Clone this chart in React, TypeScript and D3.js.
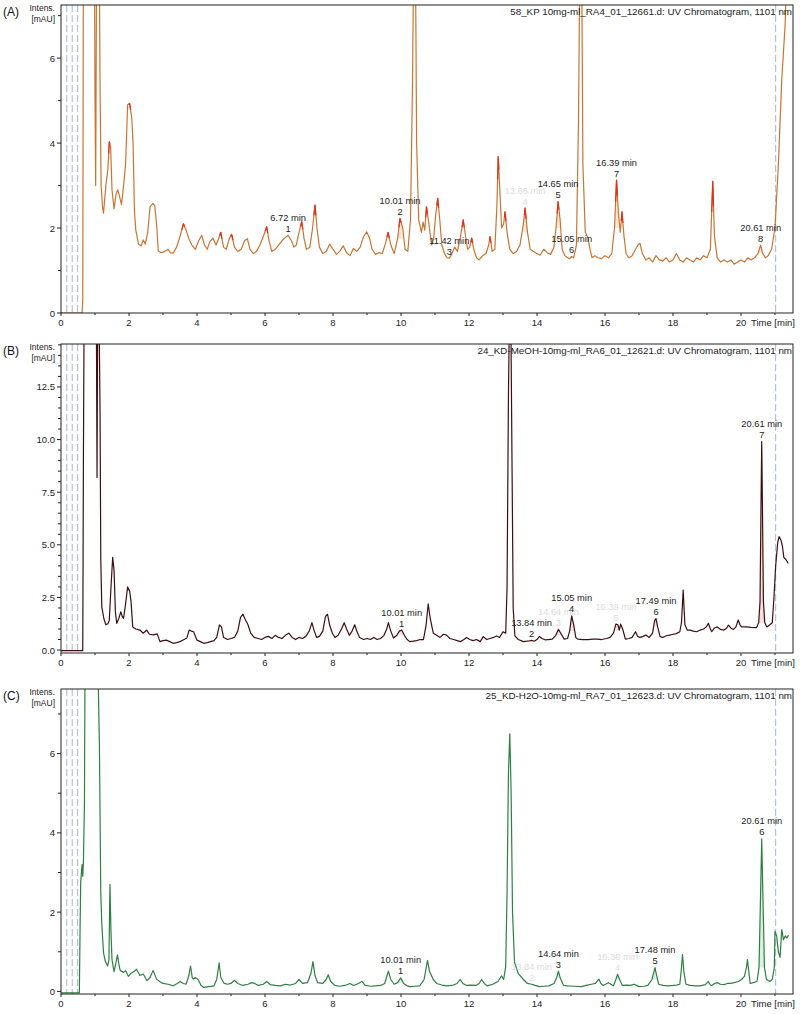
import React from 'react';
import * as d3 from 'd3';

type Pt = [number, number];

// retention time (min) / intensity (mAU)
const traceA: Pt[] = [
  [0, 0], [0.62, 0], [0.64, 0.3], [0.66, 9], [0.98, 9], [1.0, 5.1], [1.02, 3.0], [1.05, 9], [1.12, 9],
  [1.15, 5.2], [1.18, 3.0], [1.22, 2.5], [1.25, 2.35], [1.32, 3.0], [1.38, 3.4], [1.42, 4.03], [1.46, 3.9],
  [1.5, 2.9], [1.56, 2.45], [1.62, 2.8], [1.67, 2.9], [1.72, 2.75], [1.78, 2.55], [1.84, 3.0], [1.9, 3.5],
  [1.96, 4.9], [2.02, 4.93], [2.08, 4.6], [2.12, 4.0], [2.16, 2.4], [2.2, 1.95], [2.28, 1.62], [2.36, 1.58],
  [2.42, 1.72], [2.48, 1.62], [2.55, 1.9], [2.62, 2.5], [2.7, 2.58], [2.76, 2.52], [2.82, 2.0], [2.86, 1.46],
  [2.95, 1.42], [3.05, 1.45], [3.15, 1.5], [3.22, 1.42], [3.3, 1.41], [3.4, 1.55], [3.5, 1.8], [3.6, 2.1],
  [3.68, 1.95], [3.76, 1.75], [3.85, 1.6], [3.95, 1.5], [4.05, 1.7], [4.14, 1.83], [4.22, 1.6], [4.3, 1.5],
  [4.38, 1.68], [4.47, 1.76], [4.56, 1.6], [4.62, 1.72], [4.7, 1.9], [4.78, 1.55], [4.86, 1.5], [4.95, 1.75],
  [5.02, 1.85], [5.1, 1.55], [5.2, 1.45], [5.3, 1.5], [5.4, 1.7], [5.48, 1.75], [5.56, 1.5], [5.65, 1.4],
  [5.75, 1.45], [5.85, 1.6], [5.95, 1.8], [6.05, 2.03], [6.12, 1.7], [6.2, 1.45], [6.3, 1.5], [6.4, 1.6],
  [6.5, 1.7], [6.6, 1.78], [6.68, 1.83], [6.78, 1.7], [6.85, 1.55], [6.92, 1.6], [7.0, 1.9], [7.08, 2.15],
  [7.15, 1.75], [7.22, 1.5], [7.32, 1.55], [7.4, 2.0], [7.47, 2.54], [7.53, 2.0], [7.6, 1.55], [7.7, 1.4],
  [7.8, 1.45], [7.9, 1.62], [8.0, 1.5], [8.1, 1.38], [8.2, 1.45], [8.3, 1.58], [8.4, 1.42], [8.5, 1.35],
  [8.6, 1.52], [8.7, 1.45], [8.8, 1.55], [8.9, 1.8], [8.99, 1.91], [9.08, 1.75], [9.15, 1.5], [9.25, 1.38],
  [9.35, 1.42], [9.45, 1.4], [9.55, 1.65], [9.62, 1.9], [9.7, 1.6], [9.8, 1.4], [9.9, 1.75], [9.97, 2.23],
  [10.05, 2.0], [10.12, 1.5], [10.2, 1.45], [10.28, 2.2], [10.34, 5.5], [10.38, 9], [10.42, 9], [10.46, 4.0],
  [10.52, 2.2], [10.6, 1.9], [10.65, 2.14], [10.7, 1.95], [10.75, 2.5], [10.82, 2.1], [10.9, 1.6], [10.96, 1.75],
  [11.02, 2.3], [11.08, 2.7], [11.14, 2.2], [11.2, 1.6], [11.28, 1.4], [11.35, 1.3], [11.42, 1.29], [11.5, 1.4],
  [11.58, 1.55], [11.66, 1.45], [11.75, 1.8], [11.83, 2.19], [11.9, 1.8], [11.96, 1.5], [12.02, 1.55],
  [12.08, 1.76], [12.14, 1.5], [12.22, 1.3], [12.3, 1.25], [12.4, 1.35], [12.5, 1.4], [12.58, 1.6], [12.62, 1.8],
  [12.68, 1.45], [12.76, 1.5], [12.82, 2.5], [12.86, 3.68], [12.9, 3.0], [12.96, 2.0], [13.02, 2.1],
  [13.06, 2.38], [13.12, 1.9], [13.2, 1.5], [13.3, 1.4], [13.4, 1.45], [13.5, 1.6], [13.6, 2.1], [13.65, 2.47],
  [13.72, 1.9], [13.8, 1.5], [13.9, 1.45], [14.0, 1.4], [14.09, 1.36], [14.2, 1.5], [14.3, 1.42], [14.4, 1.38],
  [14.5, 1.55], [14.56, 2.0], [14.62, 2.62], [14.68, 2.2], [14.74, 1.5], [14.82, 1.35], [14.9, 1.3],
  [14.96, 1.28], [15.02, 1.33], [15.08, 1.3], [15.16, 1.6], [15.22, 4.5], [15.27, 9], [15.31, 9], [15.35, 3.5],
  [15.42, 1.9], [15.5, 1.76], [15.56, 1.5], [15.62, 1.3], [15.7, 1.35], [15.8, 1.3], [15.9, 1.28], [16.0, 1.35],
  [16.1, 1.3], [16.2, 1.4], [16.28, 2.0], [16.34, 3.13], [16.4, 2.3], [16.45, 1.9], [16.5, 2.38], [16.56, 1.8],
  [16.62, 1.4], [16.7, 1.3], [16.8, 1.35], [16.9, 1.5], [16.97, 1.6], [17.03, 1.64], [17.1, 1.4], [17.2, 1.25],
  [17.3, 1.3], [17.4, 1.2], [17.5, 1.35], [17.6, 1.25], [17.7, 1.22], [17.8, 1.3], [17.9, 1.2], [18.0, 1.25],
  [18.1, 1.4], [18.2, 1.25], [18.3, 1.2], [18.4, 1.3], [18.5, 1.25], [18.6, 1.2], [18.7, 1.3], [18.8, 1.25],
  [18.9, 1.35], [19.0, 1.3], [19.1, 1.5], [19.17, 3.1], [19.22, 1.8], [19.3, 1.3], [19.4, 1.2], [19.5, 1.25],
  [19.6, 1.2], [19.7, 1.25], [19.8, 1.15], [19.9, 1.2], [20.0, 1.25], [20.1, 1.2], [20.2, 1.3], [20.3, 1.25],
  [20.4, 1.3], [20.5, 1.4], [20.58, 1.6], [20.64, 1.4], [20.72, 1.3], [20.8, 1.35], [20.9, 1.5], [21.0, 2.0],
  [21.1, 3.5], [21.2, 5.5], [21.3, 6.8], [21.38, 9],
];

const traceB: Pt[] = [
  [0, -0.03], [0.64, -0.03], [0.66, 9.4], [0.68, 16], [1.04, 16], [1.06, 8.2], [1.08, 16], [1.12, 16],
  [1.15, 11.0], [1.17, 4.3], [1.2, 2.05], [1.26, 1.5], [1.32, 1.2], [1.38, 1.25], [1.42, 1.4], [1.47, 3.0],
  [1.52, 4.4], [1.56, 3.8], [1.6, 1.8], [1.64, 1.27], [1.7, 1.5], [1.76, 1.82], [1.8, 1.6], [1.84, 1.5],
  [1.9, 2.2], [1.96, 3.0], [2.02, 2.8], [2.06, 2.3], [2.11, 1.1], [2.2, 1.0], [2.32, 0.95], [2.42, 0.8],
  [2.52, 0.95], [2.6, 0.75], [2.72, 0.72], [2.83, 0.77], [2.91, 0.4], [3.0, 0.45], [3.1, 0.47], [3.2, 0.4],
  [3.3, 0.32], [3.4, 0.35], [3.5, 0.4], [3.62, 0.5], [3.7, 0.57], [3.77, 0.95], [3.84, 0.9], [3.9, 0.87],
  [4.0, 0.47], [4.1, 0.4], [4.2, 0.32], [4.3, 0.35], [4.4, 0.4], [4.5, 0.45], [4.58, 0.6], [4.66, 1.2],
  [4.72, 1.1], [4.78, 0.6], [4.9, 0.5], [5.0, 0.55], [5.1, 0.6], [5.2, 0.9], [5.28, 1.55], [5.35, 1.7],
  [5.42, 1.45], [5.5, 1.2], [5.58, 0.8], [5.68, 0.6], [5.8, 0.55], [5.9, 0.5], [6.0, 0.6], [6.1, 0.65],
  [6.2, 0.55], [6.3, 0.7], [6.4, 0.6], [6.5, 0.55], [6.6, 0.7], [6.7, 0.8], [6.8, 0.6], [6.9, 0.5], [7.0, 0.6],
  [7.1, 0.55], [7.2, 0.65], [7.3, 0.9], [7.38, 1.3], [7.45, 0.9], [7.52, 0.6], [7.6, 0.65], [7.7, 0.9],
  [7.78, 1.6], [7.84, 1.7], [7.9, 1.2], [7.98, 0.8], [8.06, 0.6], [8.15, 0.7], [8.25, 1.0], [8.33, 1.3],
  [8.4, 1.0], [8.48, 0.7], [8.56, 0.9], [8.64, 1.2], [8.7, 0.9], [8.78, 0.6], [8.9, 0.5], [9.0, 0.55],
  [9.1, 0.5], [9.2, 0.6], [9.3, 0.5], [9.4, 0.55], [9.5, 0.7], [9.58, 1.0], [9.63, 1.3], [9.7, 0.9],
  [9.78, 0.57], [9.88, 0.7], [9.95, 0.9], [10.02, 0.95], [10.1, 0.7], [10.18, 0.5], [10.26, 0.4],
  [10.36, 0.42], [10.46, 0.45], [10.56, 0.5], [10.66, 0.5], [10.74, 1.2], [10.8, 2.19], [10.86, 1.5],
  [10.95, 0.8], [11.05, 0.7], [11.15, 0.6], [11.25, 0.75], [11.34, 0.71], [11.44, 0.55], [11.55, 0.5],
  [11.65, 0.45], [11.75, 0.4], [11.85, 0.5], [11.93, 0.6], [12.02, 0.5], [12.12, 0.45], [12.22, 0.5],
  [12.33, 0.4], [12.42, 0.64], [12.52, 0.5], [12.62, 0.55], [12.72, 0.6], [12.81, 0.67], [12.9, 0.6],
  [13.0, 0.87], [13.08, 0.8], [13.12, 3.0], [13.16, 12], [13.19, 16], [13.23, 16], [13.27, 8], [13.3, 2.0],
  [13.35, 0.67], [13.45, 0.5], [13.6, 0.4], [13.7, 0.42], [13.78, 0.44], [13.84, 0.46], [13.92, 0.42],
  [14.0, 0.5], [14.07, 0.64], [14.15, 0.55], [14.25, 0.48], [14.33, 0.5], [14.45, 0.52], [14.55, 0.7],
  [14.63, 0.98], [14.7, 0.8], [14.8, 0.52], [14.9, 0.55], [14.96, 0.9], [15.02, 1.62], [15.08, 1.2],
  [15.14, 0.6], [15.2, 0.52], [15.35, 0.5], [15.5, 0.5], [15.65, 0.52], [15.78, 0.52], [15.9, 0.5],
  [16.05, 0.55], [16.15, 0.6], [16.25, 0.8], [16.32, 1.23], [16.38, 1.2], [16.42, 0.95], [16.46, 1.23],
  [16.52, 1.0], [16.6, 0.52], [16.7, 0.55], [16.8, 0.6], [16.9, 0.87], [16.96, 0.65], [17.03, 0.6],
  [17.12, 0.65], [17.2, 0.71], [17.3, 0.6], [17.4, 0.8], [17.46, 1.4], [17.5, 1.5], [17.55, 1.1],
  [17.62, 0.64], [17.7, 0.6], [17.8, 0.68], [17.9, 0.71], [18.0, 0.75], [18.1, 0.78], [18.2, 0.87],
  [18.25, 1.3], [18.3, 2.85], [18.35, 1.2], [18.42, 0.95], [18.5, 0.95], [18.6, 0.9], [18.7, 0.87],
  [18.8, 0.95], [18.9, 1.0], [18.98, 1.1], [19.04, 1.27], [19.1, 1.0], [19.14, 0.87], [19.22, 1.05],
  [19.3, 1.1], [19.4, 0.98], [19.5, 0.95], [19.58, 1.05], [19.63, 1.19], [19.7, 1.05], [19.78, 0.98],
  [19.85, 1.1], [19.92, 1.43], [19.97, 1.2], [20.02, 1.1], [20.15, 1.1], [20.3, 1.08], [20.46, 1.07],
  [20.52, 1.3], [20.56, 2.3], [20.59, 7.0], [20.61, 9.9], [20.63, 7.0], [20.66, 2.3], [20.7, 1.3],
  [20.76, 1.1], [20.85, 1.2], [20.92, 1.3], [20.97, 2.5], [21.02, 4.0], [21.08, 5.1], [21.12, 5.39],
  [21.18, 5.2], [21.22, 4.92], [21.26, 4.4], [21.32, 4.3], [21.39, 4.12],
];

const traceC: Pt[] = [
  [0, -0.04], [0.54, -0.04], [0.56, 1.5], [0.58, 2.78], [0.62, 3.2], [0.64, 2.9], [0.66, 3.3], [0.69, 4.76],
  [0.71, 9], [1.07, 9], [1.13, 6.19], [1.17, 2.49], [1.2, 1.7], [1.25, 0.98], [1.3, 0.77], [1.37, 0.64],
  [1.41, 0.8], [1.44, 2.7], [1.47, 1.5], [1.5, 0.8], [1.56, 0.5], [1.61, 0.7], [1.66, 0.92], [1.7, 0.7],
  [1.74, 0.53], [1.84, 0.48], [1.9, 0.52], [1.98, 0.38], [2.05, 0.45], [2.15, 0.5], [2.22, 0.56], [2.32, 0.4],
  [2.42, 0.44], [2.53, 0.27], [2.62, 0.35], [2.71, 0.53], [2.81, 0.31], [2.9, 0.25], [3.0, 0.2], [3.15, 0.18],
  [3.3, 0.14], [3.42, 0.2], [3.5, 0.25], [3.6, 0.2], [3.68, 0.18], [3.76, 0.4], [3.81, 0.64], [3.86, 0.35],
  [3.89, 0.31], [3.95, 0.35], [4.04, 0.29], [4.12, 0.15], [4.2, 0.1], [4.35, 0.12], [4.5, 0.14], [4.58, 0.3],
  [4.65, 0.72], [4.7, 0.35], [4.8, 0.2], [4.9, 0.18], [5.0, 0.2], [5.1, 0.28], [5.2, 0.2], [5.35, 0.15],
  [5.5, 0.18], [5.6, 0.22], [5.7, 0.2], [5.8, 0.15], [5.95, 0.18], [6.05, 0.25], [6.15, 0.17], [6.3, 0.15],
  [6.45, 0.14], [6.6, 0.18], [6.75, 0.16], [6.9, 0.2], [7.0, 0.3], [7.1, 0.2], [7.25, 0.22], [7.35, 0.45],
  [7.41, 0.75], [7.47, 0.4], [7.55, 0.22], [7.7, 0.2], [7.8, 0.3], [7.86, 0.42], [7.93, 0.25], [8.05, 0.15],
  [8.2, 0.13], [8.35, 0.15], [8.5, 0.2], [8.6, 0.15], [8.75, 0.2], [8.85, 0.25], [8.95, 0.15], [9.1, 0.13],
  [9.25, 0.14], [9.4, 0.15], [9.52, 0.2], [9.63, 0.51], [9.7, 0.3], [9.8, 0.18], [9.9, 0.22], [9.99, 0.34],
  [10.08, 0.2], [10.18, 0.14], [10.26, 0.12], [10.4, 0.13], [10.55, 0.14], [10.68, 0.3], [10.78, 0.78],
  [10.84, 0.5], [10.95, 0.3], [11.05, 0.2], [11.2, 0.16], [11.34, 0.14], [11.5, 0.15], [11.65, 0.2],
  [11.74, 0.3], [11.82, 0.2], [11.93, 0.15], [12.05, 0.16], [12.2, 0.15], [12.3, 0.2], [12.37, 0.3],
  [12.45, 0.2], [12.53, 0.14], [12.7, 0.18], [12.85, 0.25], [12.96, 0.39], [13.02, 0.3], [13.08, 0.63],
  [13.12, 2.5], [13.16, 5.5], [13.2, 6.5], [13.24, 5.0], [13.28, 2.0], [13.34, 0.73], [13.45, 0.45],
  [13.6, 0.3], [13.72, 0.2], [13.84, 0.18], [13.95, 0.15], [14.07, 0.12], [14.2, 0.13], [14.35, 0.14],
  [14.5, 0.2], [14.58, 0.35], [14.63, 0.51], [14.68, 0.35], [14.78, 0.15], [14.9, 0.14], [15.1, 0.13],
  [15.3, 0.12], [15.45, 0.15], [15.6, 0.18], [15.72, 0.2], [15.82, 0.31], [15.88, 0.2], [15.95, 0.15],
  [16.1, 0.22], [16.25, 0.14], [16.32, 0.3], [16.37, 0.43], [16.43, 0.3], [16.51, 0.15], [16.65, 0.16],
  [16.75, 0.15], [16.86, 0.18], [17.0, 0.12], [17.15, 0.13], [17.26, 0.15], [17.38, 0.3], [17.47, 0.6],
  [17.52, 0.4], [17.58, 0.18], [17.7, 0.15], [17.85, 0.14], [18.0, 0.15], [18.1, 0.16], [18.2, 0.18],
  [18.24, 0.5], [18.28, 0.93], [18.32, 0.5], [18.38, 0.18], [18.5, 0.15], [18.65, 0.14], [18.8, 0.14],
  [18.95, 0.17], [19.04, 0.25], [19.1, 0.16], [19.14, 0.15], [19.22, 0.2], [19.3, 0.22], [19.4, 0.18],
  [19.5, 0.17], [19.6, 0.2], [19.7, 0.2], [19.8, 0.22], [19.92, 0.25], [20.02, 0.3], [20.1, 0.38],
  [20.16, 0.6], [20.19, 0.8], [20.23, 0.5], [20.27, 0.2], [20.36, 0.22], [20.47, 0.25], [20.53, 0.6],
  [20.57, 2.2], [20.61, 3.85], [20.65, 2.2], [20.69, 0.6], [20.75, 0.3], [20.85, 0.25], [20.92, 0.3],
  [20.98, 0.6], [21.0, 1.52], [21.05, 1.4], [21.1, 1.0], [21.15, 0.86], [21.2, 1.56], [21.25, 1.3],
  [21.3, 1.4], [21.35, 1.35], [21.4, 1.42],
];

// annotated peaks: [time, label, number, faint]
const peaksA: [number, string, string, boolean][] = [
  [6.68, '6.72 min', '1', false], [9.97, '10.01 min', '2', false], [11.42, '11.42 min', '3', false],
  [13.65, '13.66 min', '4', true], [14.62, '14.65 min', '5', false], [15.02, '15.05 min', '6', false],
  [16.34, '16.39 min', '7', false], [20.58, '20.61 min', '8', false],
];
const peaksB: [number, string, string, boolean][] = [
  [10.02, '10.01 min', '1', false], [13.84, '13.84 min', '2', false], [14.63, '14.64 min', '3', true],
  [15.02, '15.05 min', '4', false], [16.38, '16.39 min', '5', true], [17.5, '17.49 min', '6', false],
  [20.61, '20.61 min', '7', false],
];
const peaksC: [number, string, string, boolean][] = [
  [9.99, '10.01 min', '1', false], [13.84, '13.84 min', '2', true], [14.63, '14.64 min', '3', false],
  [16.37, '16.38 min', '4', true], [17.47, '17.48 min', '5', false], [20.61, '20.61 min', '6', false],
];

const headerA = '58_KP 10mg-ml_RA4_01_12661.d: UV Chromatogram, 1101 nm';
const headerB = '24_KD-MeOH-10mg-ml_RA6_01_12621.d: UV Chromatogram, 1101 nm';
const headerC = '25_KD-H2O-10mg-ml_RA7_01_12623.d: UV Chromatogram, 1101 nm';

const timeMajor = [0, 2, 4, 6, 8, 10, 12, 14, 16, 18, 20];
const timeMinor = [1, 3, 5, 7, 9, 11, 13, 15, 17, 19, 21];
const dashTimes = [0.17, 0.33, 0.49, 21.02];

const ticksA = [0, 2, 4, 6];
const ticksB = [0, 2.5, 5, 7.5, 10, 12.5];
const ticksC = [0, 2, 4, 6];

const FONT = '"Liberation Sans", Arial, sans-serif';
const X0 = 61;
const X1 = 793;
const T_MAX = 21.53;

type PanelProps = {
  tag: string;
  header: string;
  trace: Pt[];
  peaks: [number, string, string, boolean][];
  top: number;
  bottom: number;
  yLo: number;
  yHi: number;
  ticks: number[];
  minorStep: number;
  fmt: (v: number) => string;
  color: string;
  tip: string | null;
  fill: string;
  id: string;
};

function Panel(p: PanelProps) {
  const x = d3.scaleLinear().domain([0, T_MAX]).range([X0, X1]);
  const y = d3.scaleLinear().domain([p.yLo, p.yHi]).range([p.bottom, p.top]);
  const line = d3.line<Pt>().x(d => x(d[0])).y(d => y(d[1]));

  const minor = d3.range(0, p.yHi, p.minorStep).filter(v => !p.ticks.some(t => Math.abs(t - v) < 1e-6));

  const apexOf = (t: number) => {
    const near = p.trace.filter(d => Math.abs(d[0] - t) <= 0.07);
    return near.reduce((m, d) => (d[1] > m[1] ? d : m), near[0]);
  };

  // local maxima get a short red cap, like the instrument's peak marking
  const tips: Pt[][] = [];
  if (p.tip) {
    for (let i = 1; i < p.trace.length - 1; i++) {
      const [a, b, c] = [p.trace[i - 1], p.trace[i], p.trace[i + 1]];
      if (b[1] > a[1] && b[1] > c[1] && b[1] - Math.min(a[1], c[1]) > 0.25) {
        const k = 0.45;
        tips.push([
          [b[0] + (a[0] - b[0]) * k, b[1] + (a[1] - b[1]) * k],
          b,
          [b[0] + (c[0] - b[0]) * k, b[1] + (c[1] - b[1]) * k],
        ]);
      }
    }
  }

  return (
    <g>
      <defs>
        <clipPath id={p.id}>
          <rect x={X0} y={p.top} width={X1 - X0} height={p.bottom - p.top} />
        </clipPath>
      </defs>
      <text x={3} y={p.top + 11} fontSize={12} fontFamily={FONT} fill="#111">{p.tag}</text>
      <text x={55} y={p.top + 6} fontSize={8.5} fontFamily={FONT} textAnchor="end" fill="#222">Intens.</text>
      <text x={55} y={p.top + 17} fontSize={8.5} fontFamily={FONT} textAnchor="end" fill="#222">[mAU]</text>

      {dashTimes.map(t => (
        <line key={t} x1={x(t)} x2={x(t)} y1={p.top} y2={p.bottom} stroke="#a8b8c8" strokeWidth={1} strokeDasharray="7,3" />
      ))}

      <g clipPath={`url(#${p.id})`}>
        {p.peaks.map(([t], i) => {
          const win = p.trace.filter(d => Math.abs(d[0] - t) <= 0.1);
          const base = d3.min(win, d => d[1]) ?? 0;
          const area = d3.area<Pt>().x(d => x(d[0])).y0(y(base)).y1(d => y(d[1]));
          return <path key={i} d={area(win) ?? ''} fill={p.fill} opacity={0.35} />;
        })}
        <path d={line(p.trace) ?? ''} fill="none" stroke={p.color} strokeWidth={1.2} strokeLinejoin="round" />
        {tips.map((s, i) => (
          <path key={i} d={line(s) ?? ''} fill="none" stroke={p.tip ?? ''} strokeWidth={1.2} strokeLinejoin="round" />
        ))}
      </g>

      {p.peaks.map(([t, label, n, faint], i) => {
        const a = apexOf(t);
        const py = Math.max(y(a[1]), p.top + 30);
        const c = faint ? '#dcdcdc' : '#222';
        return (
          <g key={i} fontFamily={FONT} textAnchor="middle" fill={c}>
            <text x={x(a[0])} y={py - 14.5} fontSize={9.3}>{label}</text>
            <text x={x(a[0])} y={py - 3.5} fontSize={9.3}>{n}</text>
          </g>
        );
      })}

      <rect x={X0} y={p.top} width={X1 - X0} height={p.bottom - p.top} fill="none" stroke="#222" strokeWidth={1} />

      {p.ticks.map(v => (
        <g key={v}>
          <line x1={X0 - 4} x2={X0} y1={y(v)} y2={y(v)} stroke="#222" />
          <text x={X0 - 6} y={y(v) + 3.5} fontSize={9.5} fontFamily={FONT} textAnchor="end" fill="#222">{p.fmt(v)}</text>
        </g>
      ))}
      {minor.map(v => (
        <line key={v} x1={X0 - 3} x2={X0} y1={y(v)} y2={y(v)} stroke="#222" />
      ))}

      {timeMajor.map(t => (
        <g key={t}>
          <line x1={x(t)} x2={x(t)} y1={p.bottom} y2={p.bottom + 3} stroke="#222" />
          <text x={x(t)} y={p.bottom + 13} fontSize={9.5} fontFamily={FONT} textAnchor="middle" fill="#222">{t}</text>
        </g>
      ))}
      {timeMinor.filter(t => t < T_MAX).map(t => (
        <line key={t} x1={x(t)} x2={x(t)} y1={p.bottom} y2={p.bottom + 2} stroke="#222" />
      ))}
      <text x={x(20) + 10} y={p.bottom + 13} fontSize={9.5} fontFamily={FONT} fill="#222">Time [min]</text>

      <text x={X1 - 1} y={p.top + 9.5} fontSize={9.8} fontFamily={FONT} textAnchor="end" fill="#222">{p.header}</text>
    </g>
  );
}

export default function App() {
  return (
    <svg width={800} height={1014} style={{ position: 'absolute', left: 0, top: 0, background: '#fff' }}>
      <rect width={800} height={1014} fill="#fff" />
      <Panel id="clipA" tag="(A)" header={headerA} trace={traceA} peaks={peaksA} top={5} bottom={313}
        yLo={0} yHi={7.25} ticks={ticksA} minorStep={1} fmt={v => String(v)} color="#c87533" tip="#e0321c" fill="#f2b98c" />
      <Panel id="clipB" tag="(B)" header={headerB} trace={traceB} peaks={peaksB} top={344} bottom={653}
        yLo={-0.14} yHi={14.54} ticks={ticksB} minorStep={0.5} fmt={v => v.toFixed(1)} color="#3c1012" tip={null} fill="#e8a0a4" />
      <Panel id="clipC" tag="(C)" header={headerC} trace={traceC} peaks={peaksC} top={689} bottom={994}
        yLo={-0.066} yHi={7.63} ticks={ticksC} minorStep={1} fmt={v => String(v)} color="#2f7f43" tip={null} fill="#9fd4aa" />
    </svg>
  );
}
